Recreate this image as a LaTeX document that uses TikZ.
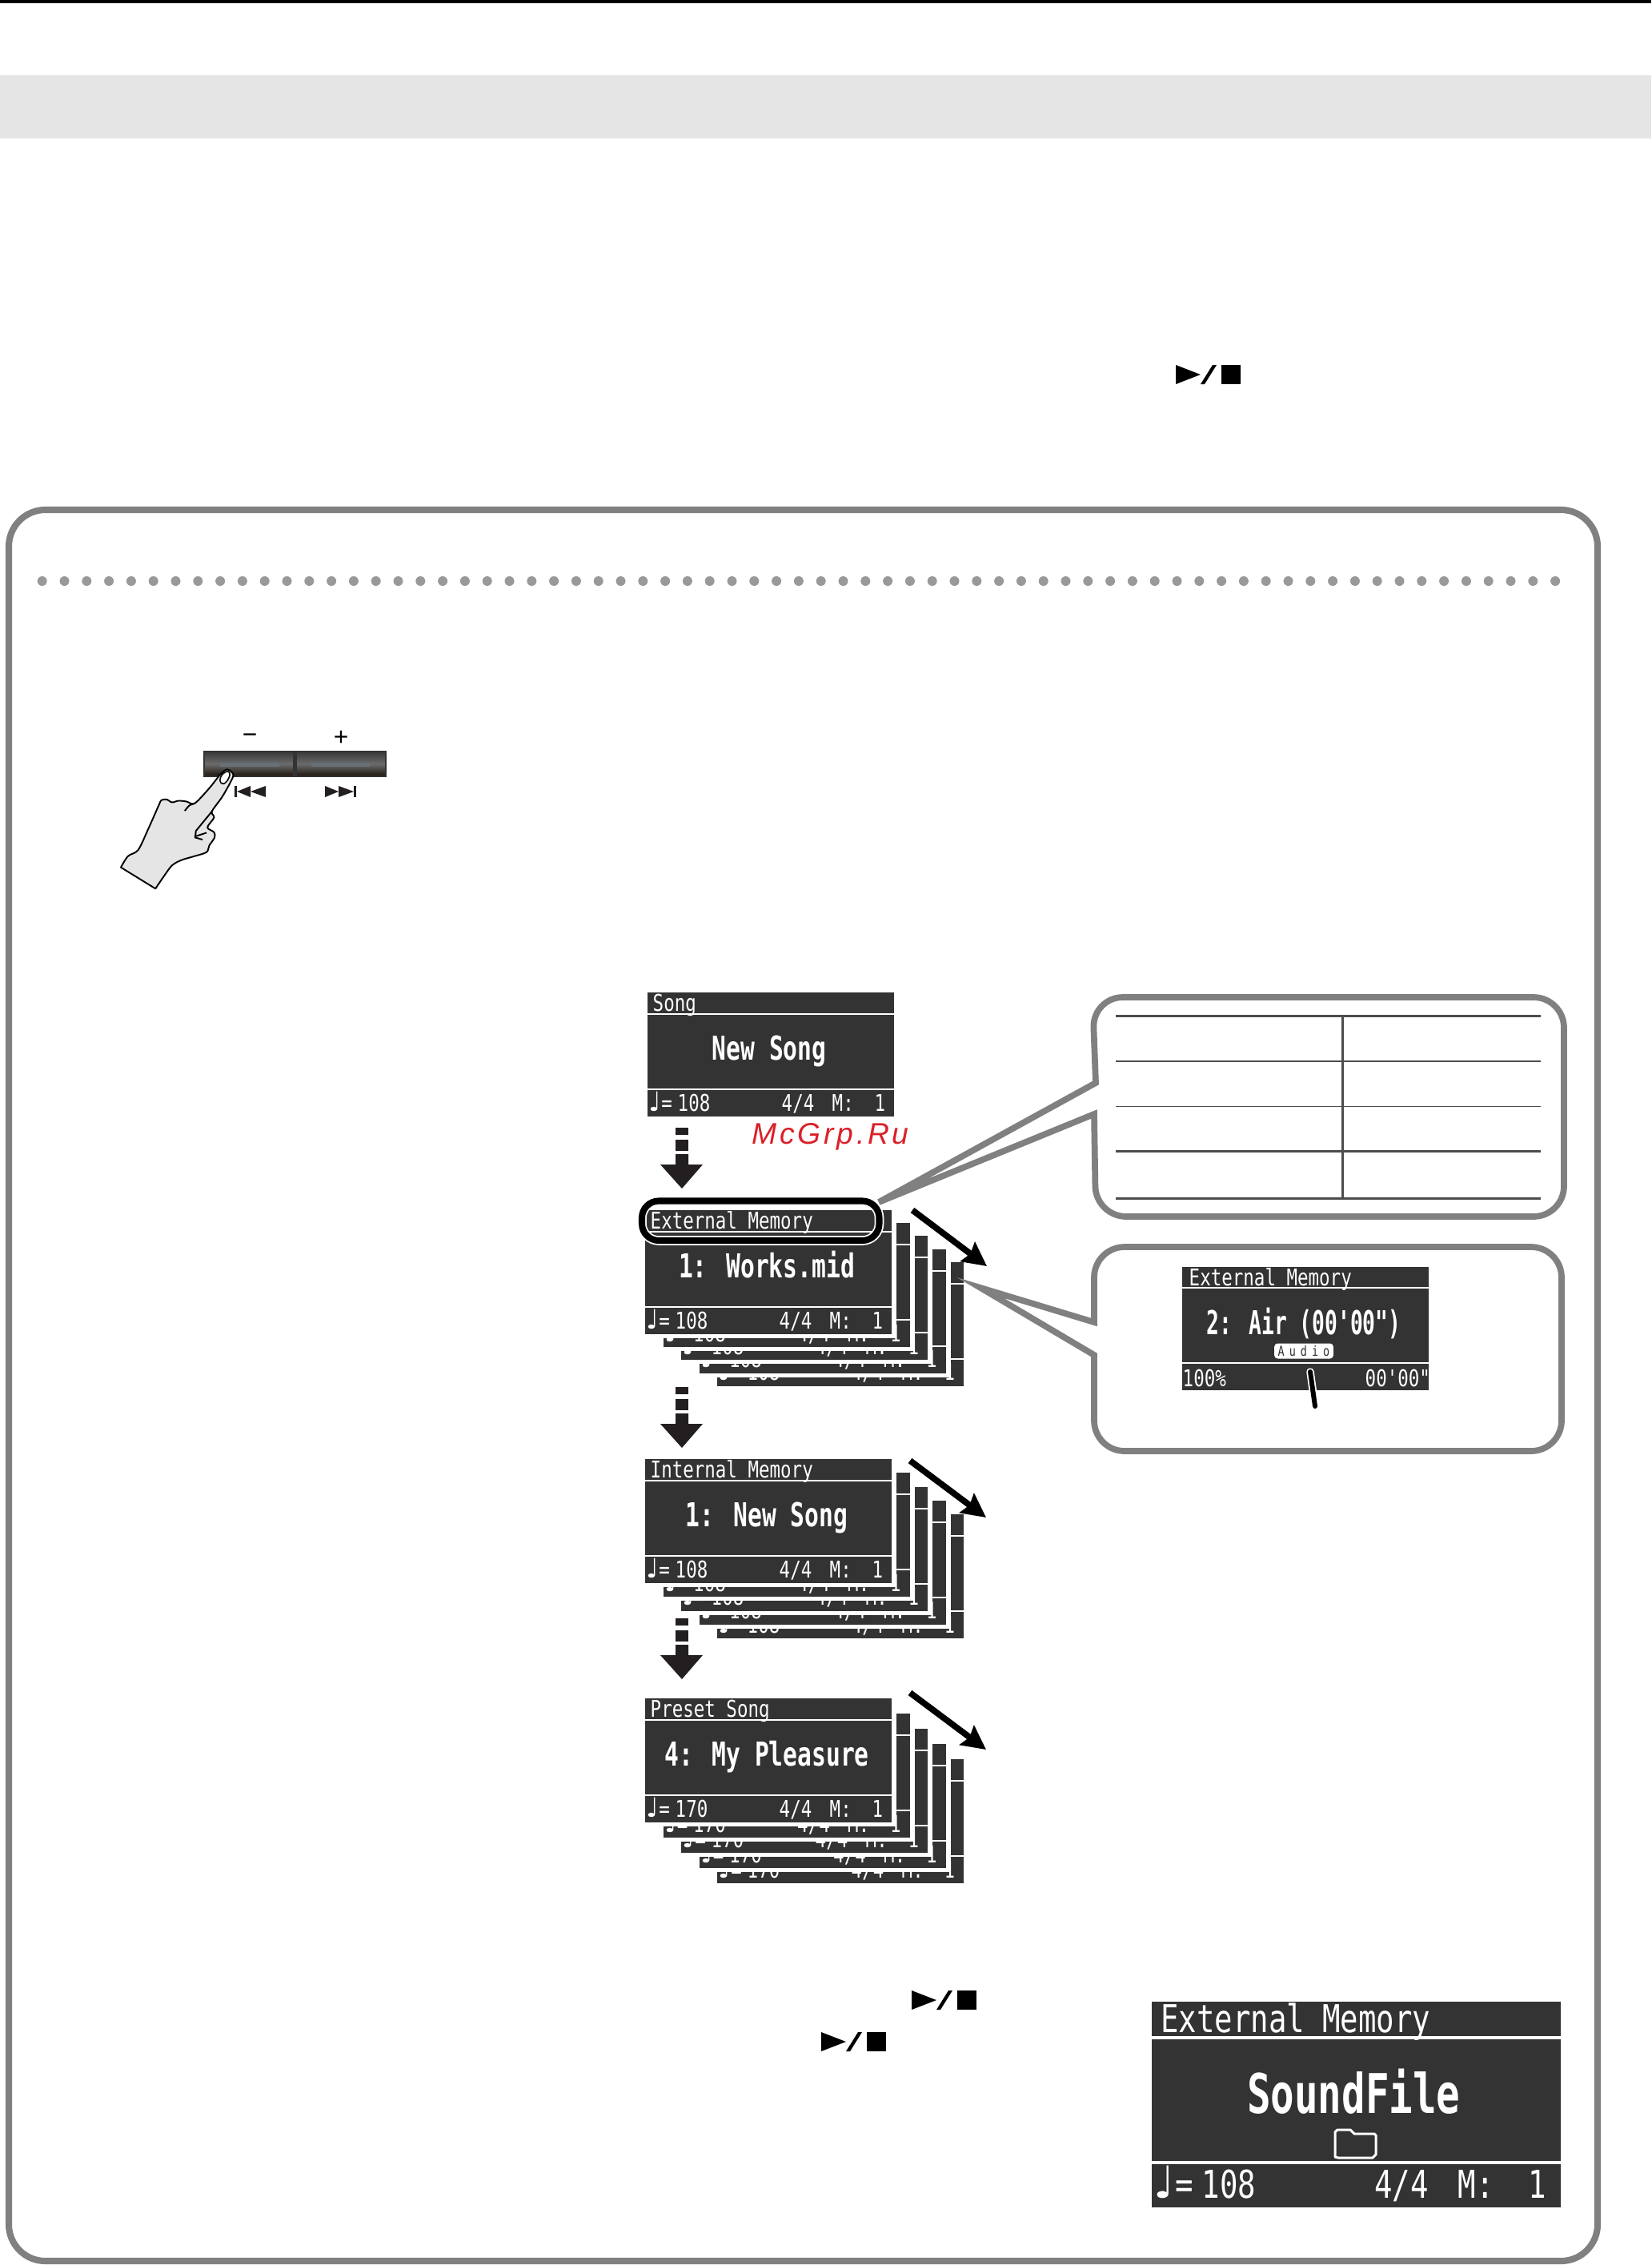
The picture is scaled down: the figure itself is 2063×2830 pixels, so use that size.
\documentclass[tikz,border=0pt]{standalone}
\usepackage{fontspec}
\setmainfont{Liberation Sans}
\newfontfamily\lcdfont[FakeStretch=.78]{DejaVu Sans Mono}
\newfontfamily\lcdmainfont[FakeStretch=.72]{DejaVu Sans Mono}
\newfontfamily\lcdairfont[FakeStretch=.64]{DejaVu Sans Mono}
\newfontfamily\lcdaudiofont[FakeStretch=.78,LetterSpace=35]{DejaVu Sans Mono}
\newfontfamily\notefont{DejaVu Sans}
\newfontfamily\markfont[LetterSpace=10]{Liberation Sans}
\usetikzlibrary{arrows.meta}

\definecolor{framegray}{HTML}{808080}
\definecolor{dotgray}{HTML}{999999}
\definecolor{bandgray}{HTML}{E5E5E5}
\definecolor{lcddark}{HTML}{333333}
\definecolor{arrowdark}{HTML}{231F20}
\definecolor{tablegray}{HTML}{4D4D4D}
\definecolor{markred}{HTML}{DA2128}
\definecolor{keyglow}{HTML}{687076}

\tikzset{
    lcdtext/.style={inner sep=0pt,text=white,transform shape,anchor=base west},
    lcdtitle/.style={lcdtext,font=\lcdfont\fontsize{8.2pt}{8.2pt}\selectfont},
    lcdmain/.style={lcdtext,anchor=base,font=\lcdmainfont\bfseries\fontsize{11.7pt}{11.7pt}\selectfont},
    lcdline/.style={draw=white,line width=.6pt},
    callout/.style={draw=framegray,fill=white,line width=2.2pt,line join=miter},
    tableline/.style={draw=tablegray},
    scrollarrow/.style={line width=2.2pt,-{Stealth[length=8.5pt,width=8.5pt,inset=1.2pt]}},
    keylabel/.style={inner sep=0pt,font=\fontsize{9pt}{9pt}\selectfont},
}

% 液晶屏的底层: 名称, x, y, 速度
\newcommand{\lcdback}[4]{
\begin{scope}[shift={(#2,#3)}]
    \fill[white] (-6,-5) rectangle (314,160);
    \fill[lcddark] (0,0) rectangle (308,155);
    \draw[lcdline] (0,27) -- (308,27);
    \draw[lcdline] (0,121) -- (308,121);
    \node[lcdtitle] (#1note) at (1,148) {{\notefont\fontsize{9.5pt}{9.5pt}\selectfont\char"2669}=};
    \node[lcdtitle] (#1tempo) at (37,148) {#4};
    \node[lcdtitle] (#1meter) at (167,148) {4/4};
    \node[lcdtitle] (#1m) at (230,148) {M:};
    \node[lcdtitle] (#1bar) at (283,148) {1};
\end{scope}
}

% 液晶屏: 名称, x, y, 标题, 主文字, 速度
\newcommand{\lcdscreen}[6]{
    \lcdback{#1}{#2}{#3}{#6}
\begin{scope}[shift={(#2,#3)}]
    \node[lcdtitle] (#1title) at (6,23) {#4};
    \node[lcdmain] (#1main) at (152,84) {#5};
\end{scope}
}

% 一叠液晶屏
\newcommand{\lcdstack}[7]{
    \foreach \k in {4,3,2,1} {
        \lcdback{#1\k}{#2+22.5*\k}{#3+#4*\k}{#7}
    }
    \lcdscreen{#1}{#2}{#3}{#5}{#6}{#7}
}

% 虚线向下箭头
\newcommand{\dashdown}[1]{
    \fill[arrowdark] (844,#1) rectangle (860,#1+9);
    \fill[arrowdark] (844,#1+15) rectangle (860,#1+29);
    \fill[arrowdark] (844,#1+33) -- (860,#1+33) -- (860,#1+46) -- (878,#1+46)
        -- (852,#1+76) -- (825,#1+46) -- (844,#1+46) -- cycle;
}

% 播放/停止符号
\newcommand{\playstop}[2]{
    \fill (#1,#2) -- (#1+31,#2+12) -- (#1,#2+24) -- cycle;
    \fill (#1+31,#2+24) -- (#1+46,#2) -- (#1+51,#2) -- (#1+36,#2+24) -- cycle;
    \fill (#1+57,#2) rectangle (#1+81,#2+24);
}

\begin{document}
\begin{tikzpicture}[x=0.01cm,y=-0.01cm]
    \useasboundingbox (0,0) rectangle (2063,2830);

    % 页眉
    \fill[black] (0,0) rectangle (2063,4);
    \fill[bandgray] (0,94) rectangle (2063,173);
    \playstop{1469}{456}

    % 外框
    \draw[framegray,line width=2.3pt,rounded corners=13pt] (11,637) rectangle (1996,2825);
    \foreach \k in {0,...,68} {
        \fill[dotgray] (52.7+27.8*\k,726) circle (6);
    }

    % 按钮
    \shade[top color=black!78,bottom color=black!85!brown,middle color=black!58] (255,939) rectangle (482,970);
    \fill[black!80] (366,939) rectangle (371,970);
    \draw[black!80,line width=.7pt] (255,939) rectangle (482,970);
    \fill[keyglow] (275,953) rectangle (349,958);
    \fill[keyglow] (389,953) rectangle (462,958);
    \node[keylabel] (minus) at (312,923) {−};
    \node[keylabel] (plus) at (426,922) {+};
    \fill[arrowdark] (293,982) rectangle (296,996);
    \fill[arrowdark] (296,989) -- (313,982) -- (313,996) -- cycle;
    \fill[arrowdark] (313,989) -- (332,982) -- (332,996) -- cycle;
    \fill[arrowdark] (406,982) -- (423,989) -- (406,996) -- cycle;
    \fill[arrowdark] (423,982) -- (442,989) -- (423,996) -- cycle;
    \fill[arrowdark] (442,982) rectangle (445,996);

    % 手
    \begin{scope}[shift={(130,890)},x=0.00333cm,y=-0.00333cm]
        \draw[fill=bandgray,line width=.55pt,line join=round] (193,662) -- (63,582) -- plot[smooth,tension=.5] coordinates {(63,582) (90,540) (128,517) (165,440) (205,350) (215,330) (235,327) (255,338) (280,332) (310,335) (340,342) (395,285) (435,235) (460,215) (480,225) (483,245) (445,315) (405,372) (413,395) (388,432) (413,450) (415,470) (395,500) (385,525) (340,540) (290,555) (255,575) (225,615) (193,662)} -- cycle;
        \draw[line width=.55pt] plot[smooth,tension=.5] coordinates {(303,370) (320,350) (340,342)};
        \draw[line width=.55pt] (405,372) -- (345,445) -- (342,470) -- (370,478);
        \draw[line width=.55pt] (345,465) -- (385,452);
        \draw[fill=white,line width=.45pt] plot[smooth cycle,tension=.7] coordinates {(435,255) (445,232) (465,222) (472,235) (460,260) (445,268)};
    \end{scope}

    % 屏幕
    \lcdscreen{song}{809}{1240}{Song}{New Song}{108}
    \dashdown{1409}
    \lcdstack{ext}{806}{1512}{16.2}{External Memory}{1: Works.mid}{108}
    \dashdown{1733}
    \lcdstack{int}{806}{1823}{17.3}{Internal Memory}{1: New Song}{108}
    \dashdown{2022}
    \lcdstack{pre}{806}{2122}{19}{Preset Song}{4: My Pleasure}{170}

    % 斜箭头
    \coordinate (extA) at (1140,1512);
    \coordinate (extB) at (1233,1582);
    \coordinate (intA) at (1137,1825);
    \coordinate (intB) at (1232,1896);
    \coordinate (preA) at (1137,2115);
    \coordinate (preB) at (1232,2186);
    \draw[scrollarrow] (extA) -- (extB);
    \draw[scrollarrow] (intA) -- (intB);
    \draw[scrollarrow] (preA) -- (preB);

    % 标注框一
    \draw[callout] (1098,1502) -- (1369,1353) [rounded corners=10.8pt] -- (1365,1246) -- (1954,1246)
        -- (1954,1520) -- (1369,1520) [sharp corners] -- (1367,1392) -- cycle;
    \draw[tableline,line width=.9pt] (1394,1269.5) -- (1925,1269.5);
    \draw[tableline,line width=.6pt] (1394,1326) -- (1925,1326);
    \draw[tableline,line width=.3pt] (1394,1382.5) -- (1925,1382.5);
    \draw[tableline,line width=.6pt] (1394,1438.5) -- (1925,1438.5);
    \draw[tableline,line width=.9pt] (1394,1497.5) -- (1925,1497.5);
    \draw[tableline,line width=.8pt] (1677.5,1269.5) -- (1677.5,1497.5);

    % 外部存储标题的圆框
    \draw[white,line width=3.3pt,rounded corners=6pt] (802,1500.5) rectangle (1098.5,1550);
    \draw[black,line width=2.3pt,rounded corners=6pt] (802,1500.5) rectangle (1098.5,1550);

    % 标注框二
    \draw[callout] (1225,1609) -- (1367,1652) [rounded corners=10.8pt] -- (1367,1558) -- (1951,1558)
        -- (1951,1813) -- (1367,1813) [sharp corners] -- (1367,1693) -- cycle;
    \begin{scope}[shift={(1477,1583)}]
        \fill[lcddark] (0,0) rectangle (308,154);
        \draw[lcdline] (0,26) -- (308,26);
        \draw[lcdline] (0,120) -- (308,120);
        \node[lcdtitle] (airtitle) at (8,23) {External Memory};
        \node[lcdmain,font=\lcdairfont\bfseries\fontsize{11.7pt}{11.7pt}\selectfont] (airmain) at (152,84) {2: Air (00'00")};
        \node[fill=white,rounded corners=1.2pt,minimum width=21pt,minimum height=5.4pt,inner sep=0pt,text=lcddark,font=\lcdaudiofont\fontsize{4.9pt}{4.9pt}\selectfont] (audio) at (152,105) {Audio};
        \node[lcdtitle] (airlevel) at (0,149) {100\%};
        \node[lcdtitle] (airtime) at (228,149) {00'00"};
    \end{scope}
    \coordinate (pointerA) at (1637,1714);
    \coordinate (pointerB) at (1643,1757);
    \draw[white,line width=2.7pt,line cap=round] (pointerA) -- (pointerB);
    \draw[black,line width=1.7pt,line cap=round] (pointerA) -- (pointerB);

    \playstop{1139}{2487}
    \playstop{1026}{2539}

    % 大屏幕
    \begin{scope}[shift={(1439,2501)},scale=1.66,lcdline/.append style={line width=1.05pt}]
        \lcdscreen{big}{0}{0}{External Memory}{SoundFile}{108}
    \end{scope}
    \draw[white,line width=.85pt,line join=round] (1668,2695) -- (1668,2664) -- (1671,2661) -- (1687,2661)
        -- (1692,2666) -- (1717,2666) -- (1719,2668) -- (1719,2692) -- (1715,2696) -- (1672,2696) -- cycle;

    % 水印
    \node[inner sep=0pt,anchor=base west,text=markred,font=\markfont\itshape\fontsize{10.6pt}{10.6pt}\selectfont] (mark) at (939,1429) {McGrp.Ru};
\end{tikzpicture}
\end{document}
